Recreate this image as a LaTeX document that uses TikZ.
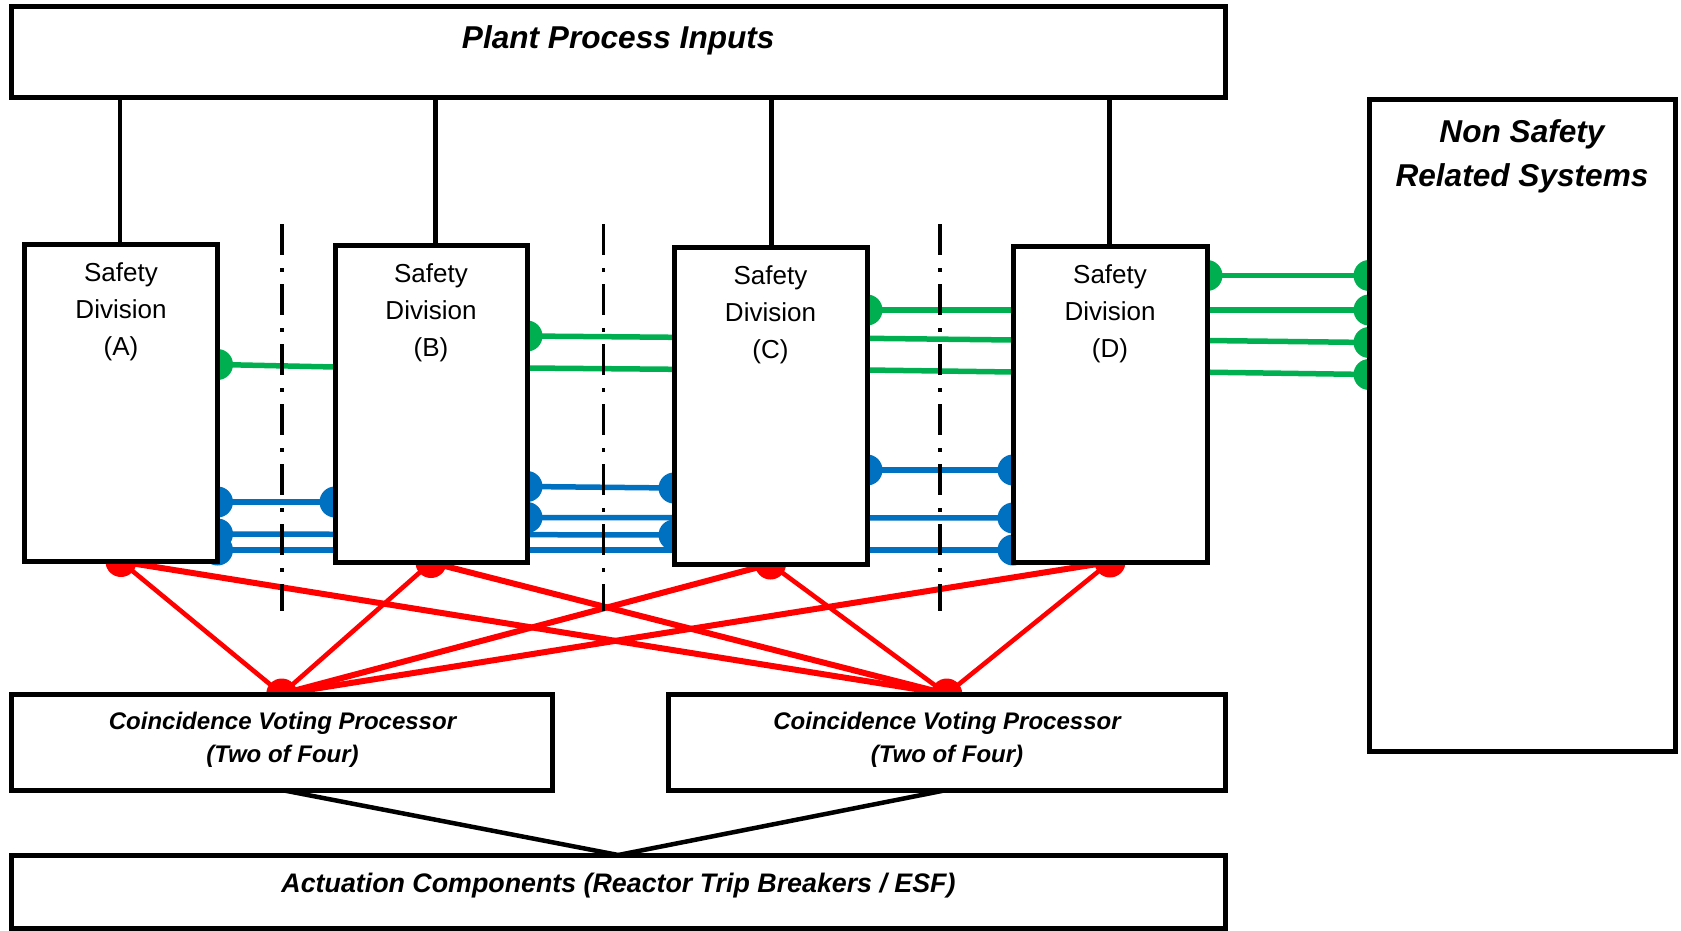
\documentclass[tikz,border=0pt]{standalone}
\usepackage{fontspec}
\setmainfont{Liberation Sans}
\definecolor{sgreen}{HTML}{00B050}
\definecolor{sblue}{HTML}{0070C0}
\definecolor{sred}{HTML}{FF0000}
\pgfdeclarelayer{bg}
\pgfsetlayers{bg,main}
\begin{document}
\begin{tikzpicture}[x=1pt,y=-1pt,
  box/.style={draw=black, line width=5pt, fill=white, inner sep=0pt, outer sep=0pt, rectangle},
  ttl/.style={inner sep=0pt, align=center, font=\bfseries\itshape\fontsize{31.6}{44}\selectfont},
  divtxt/.style={inner sep=0pt, align=center, font=\fontsize{26}{37.2}\selectfont},
  cvptxt/.style={inner sep=0pt, align=center, font=\bfseries\itshape\fontsize{24}{33}\selectfont},
  acttxt/.style={inner sep=0pt, font=\bfseries\itshape\fontsize{26.8}{32}\selectfont},
  feed/.style={draw=black, line width=4.5pt},
  gline/.style={draw=sgreen, line width=5.5pt},
  bline/.style={draw=sblue, line width=5.5pt},
  rthick/.style={draw=sred, line width=6pt},
  rthin/.style={draw=sred, line width=4.6pt},
  divider/.style={draw=black, line width=3.3pt, dash pattern=on 31pt off 13pt on 3.5pt off 12.5pt},
  gdot/.style={fill=sgreen},
  bdot/.style={fill=sblue},
  rdot/.style={fill=sred}
]
\useasboundingbox (0,0) rectangle (1681,931);

% ---- boxes ----
\node[box, minimum width=1214.5pt, minimum height=90.5pt] (ppi) at (618.25,52.25) {};
\node[box, minimum width=193pt, minimum height=317.5pt] (A) at (121,402.75) {};
\node[box, minimum width=192pt, minimum height=317pt] (B) at (431,404) {};
\node[box, minimum width=193pt, minimum height=317pt] (C) at (770.5,405.5) {};
\node[box, minimum width=194pt, minimum height=316pt] (D) at (1110,404) {};
\node[box, minimum width=306pt, minimum height=651.5pt] (ns) at (1522,425.25) {};
\node[box, minimum width=541.5pt, minimum height=96pt] (cvp1) at (281.75,742) {};
\node[box, minimum width=557.5pt, minimum height=96pt] (cvp2) at (946.75,742) {};
\node[box, minimum width=1214.5pt, minimum height=73.5pt] (act) at (618.25,891.75) {};

% ---- box labels ----
\node[ttl] (ppiT) at (618.25,40.3) {Plant Process Inputs};
\node[divtxt] (AT) at (121,311.5) {Safety\\Division\\(A)};
\node[divtxt] (BT) at (431,312.5) {Safety\\Division\\(B)};
\node[divtxt] (CT) at (770.5,314.5) {Safety\\Division\\(C)};
\node[divtxt] (DT) at (1110,313.5) {Safety\\Division\\(D)};
\node[ttl] (nsT) at (1522,156) {Non Safety\\Related Systems};
\node[cvptxt] (cvp1T) at (282.5,739.4) {Coincidence Voting Processor\\(Two of Four)};
\node[cvptxt] (cvp2T) at (947,739.4) {Coincidence Voting Processor\\(Two of Four)};
\node[acttxt] (actT) at (618.5,885.6) {Actuation Components (Reactor Trip Breakers / ESF)};

\begin{pgfonlayer}{bg}
  % plant inputs to each division
  \draw[feed] ([xshift=-1pt]A.north) -- ([xshift=-1pt]A.north |- ppi.south);
  \draw[feed] ([xshift=4.5pt]B.north) -- ([xshift=4.5pt]B.north |- ppi.south);
  \draw[feed] ([xshift=1pt]C.north) -- ([xshift=1pt]C.north |- ppi.south);
  \draw[feed] ([xshift=-0.5pt]D.north) -- ([xshift=-0.5pt]D.north |- ppi.south);

  % division outputs to non safety related systems
  \draw[gline] (A.east |- 0,364.5) -- (B.west |- 0,367) -- (B.east |- 0,368) -- (C.west |- 0,369.3)
     -- (C.east |- 0,370) -- (D.west |- 0,372) -- (D.east |- 0,372.2) -- (ns.west |- 0,374.5);
  \draw[gline] (B.east |- 0,336) -- (C.west |- 0,337.3) -- (C.east |- 0,338.3) -- (D.west |- 0,340)
     -- (D.east |- 0,340.5) -- (ns.west |- 0,342.5);
  \draw[gline] (C.east |- 0,310) -- (ns.west |- 0,310);
  \draw[gline] (D.east |- 0,275.5) -- (ns.west |- 0,275.5);

  % inter-division links
  \draw[bline] (A.east |- 0,502) -- (B.west |- 0,502);
  \draw[bline] (A.east |- 0,534) -- (C.west |- 0,535);
  \draw[bline] (A.east |- 0,550) -- (D.west |- 0,550);
  \draw[bline] (B.east |- 0,486.5) -- (C.west |- 0,488);
  \draw[bline] (B.east |- 0,517.5) -- (D.west |- 0,518);
  \draw[bline] (C.east |- 0,470) -- (D.west |- 0,470);

  % trip signals to the voting processors
  \draw[rthin]  (A.south) -- (cvp1.north);
  \draw[rthick] (A.south) -- (cvp2.north);
  \draw[rthin]  (B.south) -- (cvp1.north);
  \draw[rthick] (B.south) -- (cvp2.north);
  \draw[rthick] (C.south) -- (cvp1.north);
  \draw[rthin]  (C.south) -- (cvp2.north);
  \draw[rthick] (D.south) -- (cvp1.north);
  \draw[rthin]  (D.south) -- (cvp2.north);

  % voting processors to actuation
  \draw[feed] (cvp1.south) -- (act.north);
  \draw[feed] (cvp2.south) -- (act.north);

  % connection points
  \foreach \p in {(A.east |- 0,364.5), (B.east |- 0,336), (C.east |- 0,310), (D.east |- 0,275.5),
                  (ns.west |- 0,275.5), (ns.west |- 0,310), (ns.west |- 0,342.5), (ns.west |- 0,374.5)}
    \fill[gdot] \p circle[radius=15.5pt];
  \foreach \p in {(A.east |- 0,502), (A.east |- 0,534), (A.east |- 0,550), (B.west |- 0,502),
                  (B.east |- 0,486.5), (B.east |- 0,517.5), (C.west |- 0,488), (C.west |- 0,535),
                  (C.east |- 0,470), (D.west |- 0,470), (D.west |- 0,518), (D.west |- 0,550)}
    \fill[bdot] \p circle[radius=15.5pt];
  \foreach \p in {(A.south), (B.south), (C.south), (D.south), (cvp1.north), (cvp2.north)}
    \fill[rdot] \p circle[radius=15.5pt];
\end{pgfonlayer}

% ---- division separators ----
\coordinate (s1t) at (282,224);   \coordinate (s1b) at (282,611);
\coordinate (s2t) at (603.6,224); \coordinate (s2b) at (603.6,611);
\coordinate (s3t) at (940,224);   \coordinate (s3b) at (940,611);
\draw[divider] (s1t) -- (s1b);
\draw[divider] (s2t) -- (s2b);
\draw[divider] (s3t) -- (s3b);
\end{tikzpicture}
\end{document}
